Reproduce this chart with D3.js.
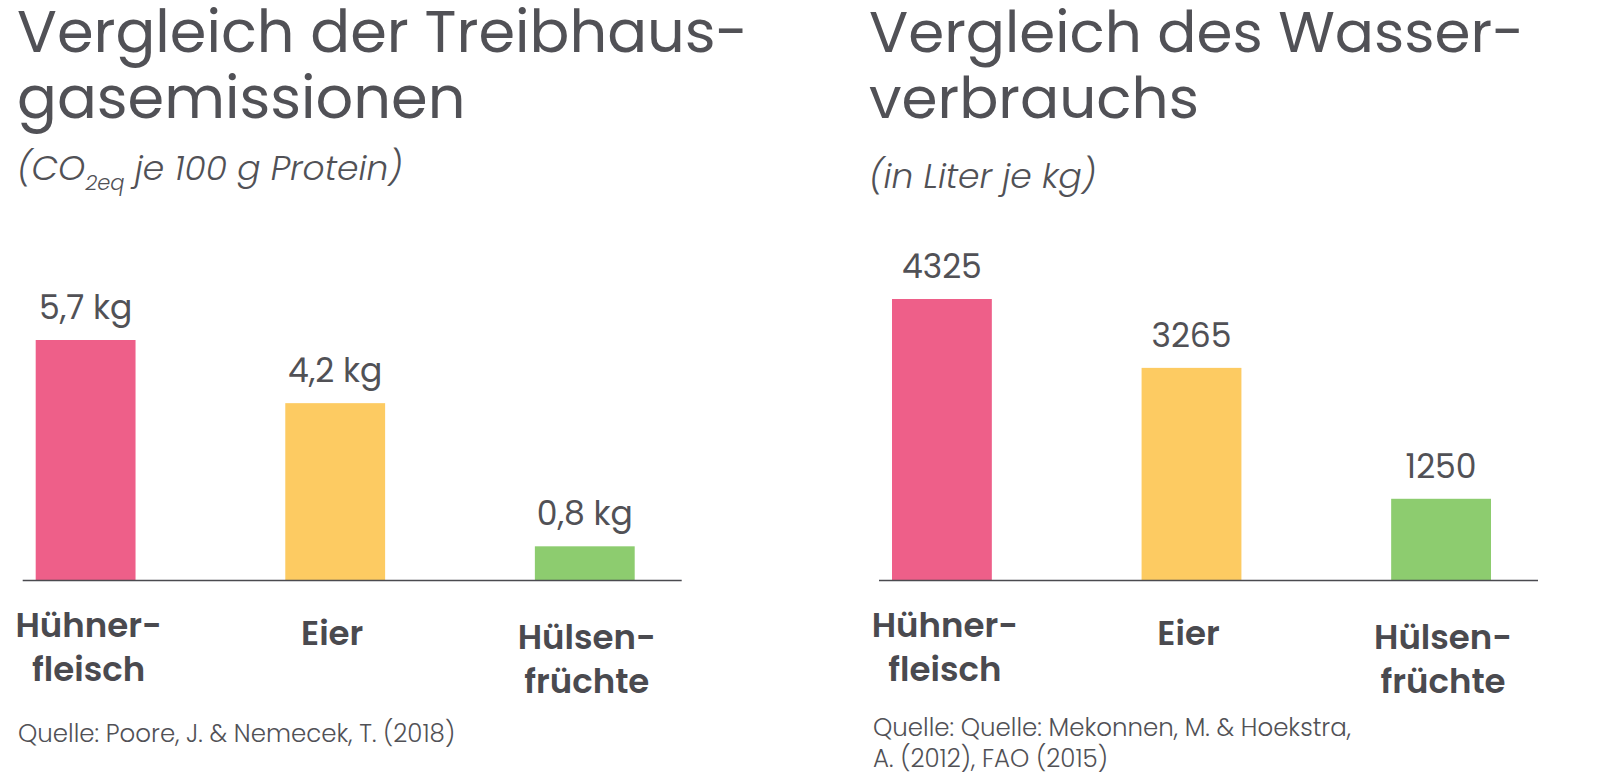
<!DOCTYPE html>
<html>
<head>
<meta charset="utf-8">
<script src="https://cdn.jsdelivr.net/npm/d3@7"></script>
<style>
  html, body { margin: 0; padding: 0; background: #fff; }
  svg { display: block; font-family: "Poppins", "Open Sans", sans-serif; }
</style>
</head>
<body>
<svg id="chart" width="1600" height="775"></svg>
<script>
// categories (split into label lines)
var categories = ["Hühnerfleisch", "Eier", "Hülsenfrüchte"];
var categoryLines = [["Hühner-", "fleisch"], ["Eier"], ["Hülsen-", "früchte"]];
var barColors = ["#ee5f89", "#fdcb62", "#8dcc6f"];

// left: greenhouse gas, kg CO2eq per 100 g protein
var ghgValues = [5.7, 4.2, 0.8];
var ghgLabels = ["5,7 kg", "4,2 kg", "0,8 kg"];

// right: water use, litre per kg
var waterValues = [4325, 3265, 1250];
var waterLabels = ["4325", "3265", "1250"];

var textColor = "#515156";
var svg = d3.select("#chart");

function drawPanel(opt) {
  var g = svg.append("g");

  // title, two lines
  g.selectAll(".title")
    .data(opt.title)
    .enter()
    .append("text")
    .attr("class", "title")
    .attr("x", opt.left)
    .attr("y", function(d, i) { return 52 + i * 66; })
    .style("font-size", opt.titleSize + "px")
    .style("font-weight", 400)
    .style("fill", textColor)
    .text(function(d) { return d; });

  // subtitle
  var sub = g.append("text")
    .attr("x", opt.left)
    .attr("y", opt.subY)
    .style("font-size", "34.5px")
    .style("font-style", "italic")
    .style("font-weight", 300)
    .style("fill", textColor);
  opt.subtitle(sub);

  var x = d3.scaleBand()
    .domain(categories)
    .range(opt.barRange)
    .paddingInner(0.6)
    .paddingOuter(0);

  var y = d3.scaleLinear()
    .domain([0, d3.max(opt.values)])
    .range([580, opt.topY]);

  g.selectAll(".bar")
    .data(opt.values)
    .enter()
    .append("rect")
    .attr("class", "bar")
    .attr("x", function(d, i) { return x(categories[i]); })
    .attr("y", function(d) { return y(d); })
    .attr("width", x.bandwidth())
    .attr("height", function(d) { return y(0) - y(d); })
    .style("fill", function(d, i) { return barColors[i]; });

  // value labels
  g.selectAll(".value")
    .data(opt.values)
    .enter()
    .append("text")
    .attr("class", "value")
    .attr("x", function(d, i) { return x(categories[i]) + x.bandwidth() / 2; })
    .attr("y", function(d) { return y(d) - 21; })
    .attr("text-anchor", "middle")
    .style("font-size", "33px")
    .style("fill", textColor)
    .text(function(d, i) { return opt.labels[i]; });

  // baseline
  g.append("line")
    .attr("x1", opt.barRange[0] - 13)
    .attr("x2", opt.barRange[1] + 47)
    .attr("y1", y(0) + 0.5)
    .attr("y2", y(0) + 0.5)
    .style("stroke", "#4a4a4f")
    .style("stroke-width", 1.3);

  // category labels
  var labelDrop = [57, 65, 69];
  var labelShift = [3, -3, 2];
  var cat = g.selectAll(".cat")
    .data(categoryLines)
    .enter()
    .append("text")
    .attr("class", "cat")
    .attr("text-anchor", "middle")
    .style("font-size", "34px")
    .style("font-weight", 600)
    .style("fill", "#4a4a4f");
  cat.selectAll("tspan")
    .data(function(d, i) { return d.map(function(t) { return { t: t, i: i }; }); })
    .enter()
    .append("tspan")
    .attr("x", function(d) { return x(categories[d.i]) + x.bandwidth() / 2 + labelShift[d.i]; })
    .attr("y", function(d, j) { return y(0) + labelDrop[d.i] + j * 44; })
    .text(function(d) { return d.t; });

  // source
  g.selectAll(".source")
    .data(opt.source)
    .enter()
    .append("text")
    .attr("class", "source")
    .attr("x", opt.sourceLeft)
    .attr("y", function(d, i) { return opt.sourceY + i * 31; })
    .style("font-size", "24.5px")
    .style("font-weight", 300)
    .style("fill", textColor)
    .text(function(d) { return d; });
}

drawPanel({
  left: 17,
  title: ["Vergleich der Treibhaus-", "gasemissionen"],
  titleSize: 59,
  subY: 180,
  subtitle: function(t) {
    t.append("tspan").text("(CO");
    t.append("tspan").attr("dy", 10).style("font-size", "21px").text("2eq");
    t.append("tspan").attr("dy", -10).text(" je 100 g Protein)");
  },
  values: ghgValues,
  labels: ghgLabels,
  barRange: [35.7, 634.7],
  topY: 340,
  source: ["Quelle: Poore, J. & Nemecek, T. (2018)"],
  sourceLeft: 18,
  sourceY: 742
});

drawPanel({
  left: 869,
  title: ["Vergleich des Wasser-", "verbrauchs"],
  titleSize: 58,
  subY: 188,
  subtitle: function(t) { t.text("(in Liter je kg)"); },
  values: waterValues,
  labels: waterLabels,
  barRange: [892, 1491],
  topY: 299,
  source: ["Quelle: Quelle: Mekonnen, M. & Hoekstra,", "A. (2012), FAO (2015)"],
  sourceLeft: 873,
  sourceY: 736
});
</script>
</body>
</html>
